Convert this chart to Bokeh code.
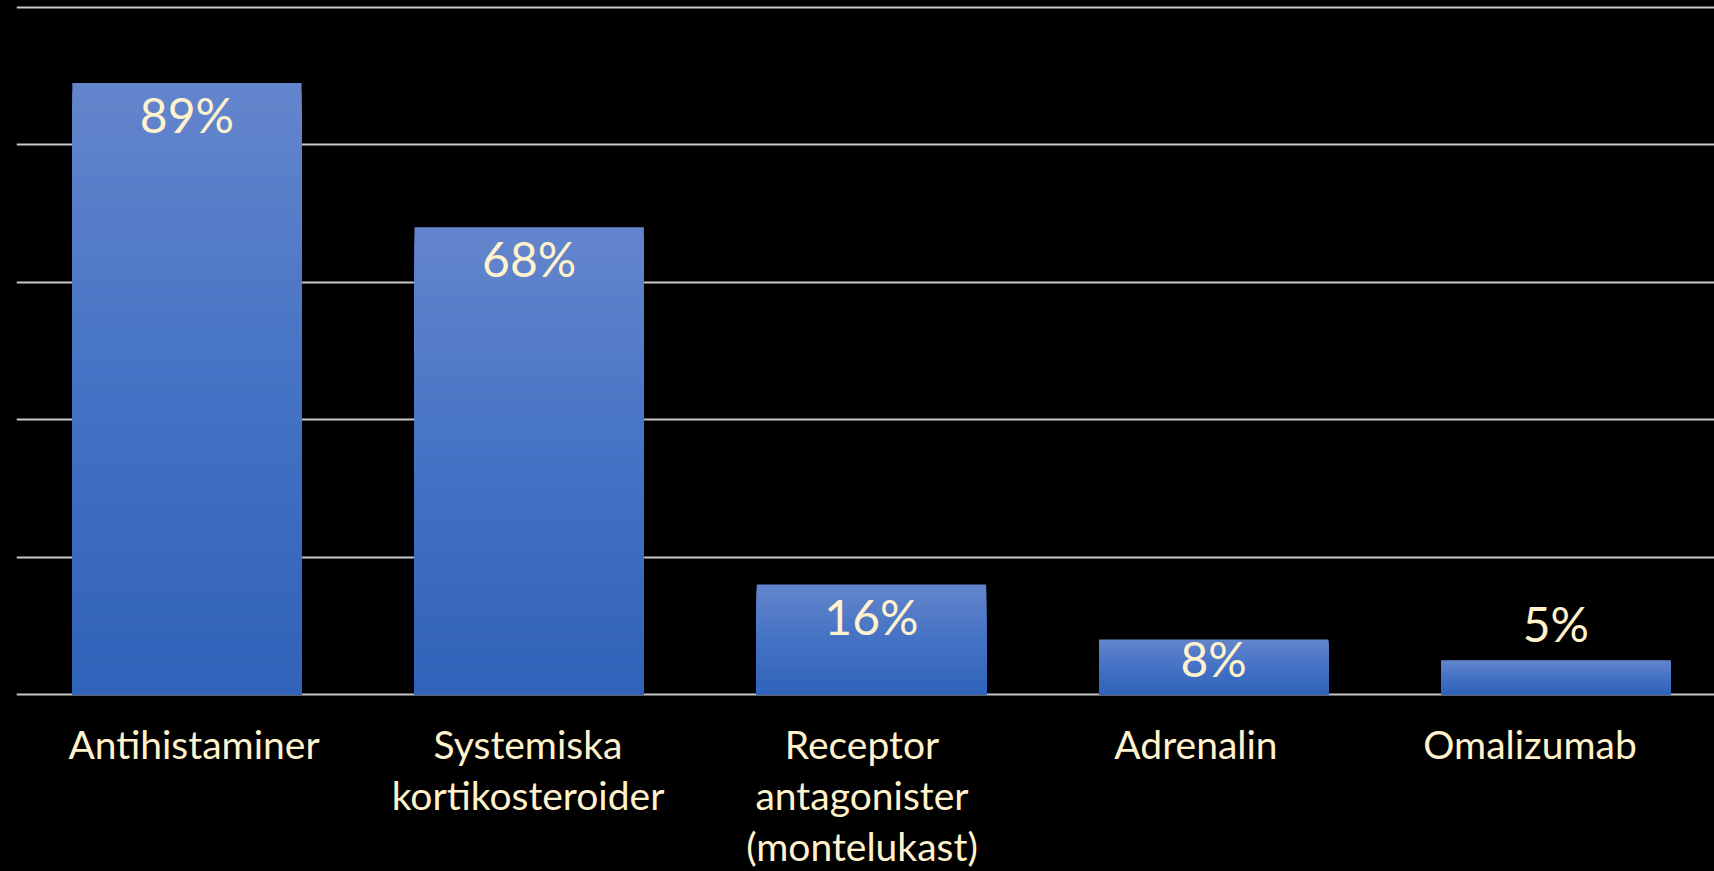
from bokeh.plotting import figure
from bokeh.models import FixedTicker, Range1d, Grid
from bokeh.core.properties import value
from bokeh.embed import file_html
from bokeh.resources import INLINE

# ---- data ----
categories = ["Antihistaminer", "Systemiska\nkortikosteroider",
              "Receptor\nantagonister\n(montelukast)", "Adrenalin", "Omalizumab"]
percentages = [89, 68, 16, 8, 5]
value_labels = ["89%", "68%", "16%", "8%", "5%"]
y_ticks = [0, 20, 40, 60, 80, 100]

# ---- layout constants ----
W, H = 1714, 871
TOP_Y = 7              # figure px of value 100
ZERO_Y = 694           # figure px of value 0
PX_PER_UNIT_Y = (ZERO_Y - TOP_Y) / 100.0
PX_PER_CAT = 342.25
LEFT = 16

y_start = -(H - ZERO_Y) / PX_PER_UNIT_Y
y_end = 100 + TOP_Y / PX_PER_UNIT_Y
x_start = -0.498
x_end = x_start + (W - LEFT) / PX_PER_CAT

p = figure(width=W, height=H, output_backend="svg", toolbar_location=None,
           x_range=Range1d(x_start, x_end), y_range=Range1d(y_start, y_end),
           x_axis_type=None, y_axis_type=None,
           min_border_left=LEFT, min_border_right=0, min_border_top=0, min_border_bottom=0,
           background_fill_color="#000000", border_fill_color="#000000",
           outline_line_color=None)

# category-label scale (labels sit on a slightly tighter spacing than the bars)
LBL_PX_PER_CAT = 334.0
LBL_FIRST = 193.5
p.extra_x_ranges = {"labels": Range1d((LEFT - LBL_FIRST) / LBL_PX_PER_CAT,
                                      (W - LBL_FIRST) / LBL_PX_PER_CAT)}

grid = Grid(dimension=1, ticker=FixedTicker(ticks=y_ticks),
            grid_line_color="#C8C8C8", grid_line_width=2)
p.add_layout(grid)

# ---- gradient bars (layered, each layer from 0 to a fraction of the bar) ----
def lerp(c1, c2, t):
    return tuple(int(round(a + (b - a) * t)) for a, b in zip(c1, c2))

stops = [(0.0, (99, 133, 204)), (0.5, (68, 114, 196)), (1.0, (47, 98, 185))]

def grad_color(t):
    for (t0, c0), (t1, c1) in zip(stops[:-1], stops[1:]):
        if t <= t1:
            r, g, b = lerp(c0, c1, (t - t0) / (t1 - t0))
            return "#%02x%02x%02x" % (r, g, b)
    r, g, b = stops[-1][1]
    return "#%02x%02x%02x" % (r, g, b)

N = 60
xs, tops, cols = [], [], []
for k in range(N):
    frac = k / N
    for i, v in enumerate(percentages):
        xs.append(i)
        tops.append(v * (1 - frac))
        cols.append(grad_color(frac))
p.vbar(x=xs, top=tops, bottom=0, width=0.67, fill_color=cols, line_color=None)

idx = list(range(len(categories)))

# ---- value labels ----
inside = [i for i, v in enumerate(percentages) if v >= 7]
outside = [i for i, v in enumerate(percentages) if v < 7]
TXT = "#FFF2CC"
inside_offsets = [3 if percentages[i] >= 10 else -10 for i in inside]
p.text(x=inside, y=[percentages[i] for i in inside],
       text=[value_labels[i] for i in inside],
       text_align="center", text_baseline="top", y_offset=inside_offsets,
       text_font=value("Lato"), text_font_size="48px", text_color=TXT)
p.text(x=outside, y=[percentages[i] for i in outside],
       text=[value_labels[i] for i in outside],
       text_align="center", text_baseline="alphabetic", y_offset=-37,
       text_font=value("Lato"), text_font_size="48px", text_color=TXT)

# ---- category labels ----
p.text(x=idx, y=[0] * len(idx), text=categories, x_range_name="labels",
       text_align="center", text_baseline="top", y_offset=26,
       text_font=value("Lato"), text_font_size="39px", text_color=TXT,
       text_line_height=1.11)

html = file_html(p, INLINE)
html = html.replace("<body>", '<body style="background-color:#000000;">')
open("out.html", "w").write(html)
